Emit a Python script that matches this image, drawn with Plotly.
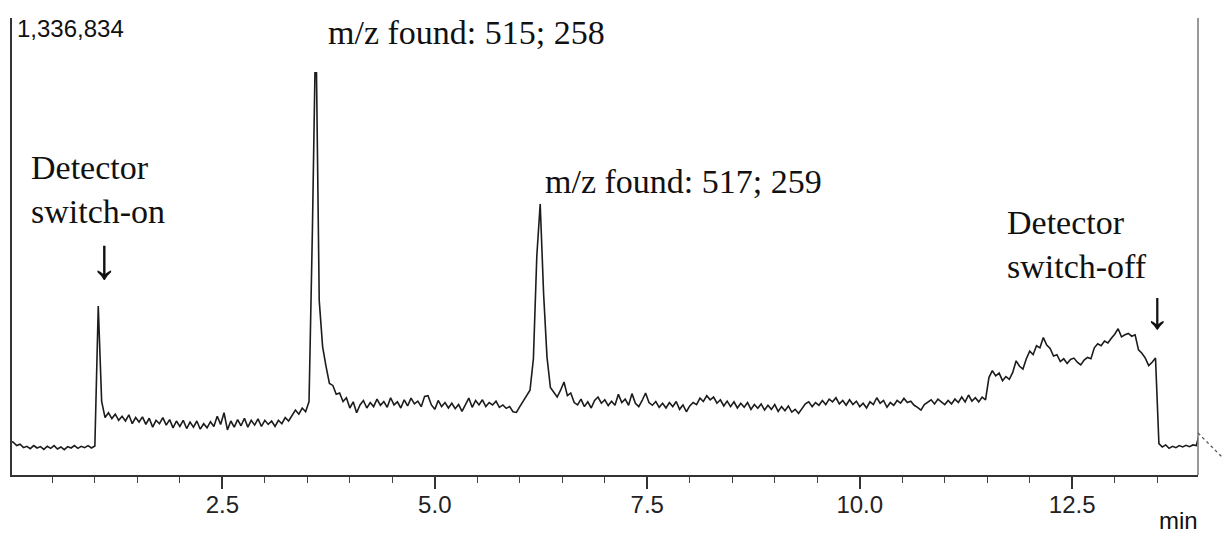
import plotly.graph_objects as go

# ---------------- data ----------------
SAMPLE_STEP_MIN = 0.04          # detector sampling interval (min)
FULL_SCALE_K = 1336.834         # full-scale intensity (thousand counts)

# intensity in thousand counts, one value every 0.04 min from 0.00 to 14.00 min
intensity_k = [
    # 0.00 - 1.00  (detector off)
    98, 96, 86, 90, 80, 84, 77, 86, 79, 83,
    75, 84, 78, 86, 76, 82, 74, 83, 79, 86,
    78, 84, 80, 86, 79, 85,
    # 1.04 - 1.12  switch-on spike
    494, 215, 168,
    # 1.16 - 3.48
    182, 165, 178, 160, 172, 158, 176, 150, 168, 155,
    170, 148, 166, 140, 160, 150, 168, 146, 162, 138,
    158, 142, 160, 136, 155, 140, 158, 134, 150, 138,
    156, 142, 172, 148, 182, 132, 158, 140, 162, 144,
    166, 140, 160, 146, 164, 142, 160, 148, 158, 142,
    160, 150, 168, 158, 175, 190, 178, 196, 185,
    # 3.52 - 4.12  main peak (m/z 515; 258)
    215, 720, 1336.834, 510, 375, 318, 268, 262, 236, 240,
    215, 226, 196, 214, 182, 205,
    # 4.16 - 6.00
    218, 196, 212, 200, 222, 204, 215, 198, 226, 205,
    214, 196, 220, 202, 225, 208, 216, 200, 230, 232,
    205, 192, 218, 200, 212, 196, 210, 194, 206, 186,
    204, 225, 198, 218, 205, 220, 200, 212, 205, 216,
    198, 205, 195, 200, 185, 183, 200,
    # 6.04 - 6.60  second peak (m/z 517; 259)
    215, 232, 248, 340, 640, 793, 530, 345, 256, 242,
    228, 248, 272, 232, 240,
    # 6.64 - 11.48
    212, 205, 222, 200, 214, 196, 218, 228, 210, 220,
    203, 216, 204, 236, 212, 222, 204, 238, 210, 200,
    218, 240, 212, 204, 215, 198, 210, 196, 212, 200,
    215, 192, 205, 185, 202, 212, 206, 225, 215, 232,
    220, 228, 210, 220, 202, 216, 200, 214, 196, 210,
    198, 212, 192, 206, 195, 208, 190, 204, 192, 206,
    186, 200, 188, 202, 184, 192, 180, 196, 208, 214,
    200, 212, 204, 218, 206, 222, 214, 226, 208, 218,
    204, 220, 206, 216, 200, 210, 196, 214, 206, 226,
    210, 218, 198, 212, 204, 218, 210, 224, 212, 216,
    204, 198, 190, 206, 212, 220, 208, 222, 214, 206,
    218, 208, 222, 212, 228, 214, 234, 216, 226, 214,
    228, 220,
    # 11.52 - 13.48  late hump
    285, 305, 290, 298, 276, 288, 280, 300, 334, 318,
    310, 340, 362, 352, 378, 372, 402, 380, 370, 348,
    352, 332, 340, 326, 338, 342, 330, 322, 336, 344,
    340, 372, 384, 378, 392, 386, 400, 412, 428, 404,
    410, 414, 406, 410, 366, 356, 342, 320, 330, 342,
    # 13.52 - 14.00  detector off
    92, 82, 88, 78, 84, 80, 86, 82, 87, 83,
    88, 86, 125,
]
time_min = [round(i * SAMPLE_STEP_MIN, 2) for i in range(len(intensity_k))]

major_tick_vals = [2.5, 5.0, 7.5, 10.0, 12.5]
major_tick_text = ["2.5", "5.0", "7.5", "10.0", "12.5"]
x_range = [0.025, 13.98]

full_scale_label = "1,336,834"
peak1_label = "m/z found: 515; 258"
peak2_label = "m/z found: 517; 259"
on_label = "Detector<br>switch-on"
off_label = "Detector<br>switch-off"
arrow_glyph = "↓"
x_unit = "min"

# ---------------- layout geometry ----------------
W, H = 1222, 536
L, R, T, B = 12, 24, 18, 61
PW, PH = W - L - R, H - T - B


def px_x(px):
    return (px - L) / PW


def px_y(py):
    return (H - B - py) / PH


SERIF = "Liberation Serif, Times New Roman, serif"
SANS = "Liberation Sans, Arial, sans-serif"

fig = go.Figure()
fig.add_trace(go.Scatter(
    x=time_min, y=intensity_k, mode="lines",
    line=dict(color="#1c1c1c", width=1.6),
    hoverinfo="skip", showlegend=False,
))


def ann(text, x, y, size, family, xanchor="left", align="left"):
    fig.add_annotation(
        text=text, xref="paper", yref="paper", x=px_x(x), y=px_y(y),
        xanchor=xanchor, yanchor="middle", align=align, showarrow=False,
        font=dict(family=family, size=size, color="#111111"),
    )


SZ = 34
ann(full_scale_label, 15, 29, 24, SANS)
ann(peak1_label, 326, 33, SZ, SERIF)
ann(peak2_label, 543, 181, SZ, SERIF)
ann(on_label, 29, 189, SZ, SERIF)
ann(arrow_glyph, 104, 258, 58, SERIF, xanchor="center", align="center")
ann(off_label, 1005, 244, SZ, SERIF)
ann(arrow_glyph, 1157, 310, 54, SERIF, xanchor="center", align="center")
ann(x_unit, 1178, 520, 24, SANS, xanchor="center", align="center")

# white label box masking the top of the main peak
fig.add_shape(type="rect", xref="paper", yref="paper",
              x0=px_x(306), x1=px_x(715), y0=px_y(72), y1=px_y(0),
              fillcolor="white", line=dict(width=0), layer="above")
# right frame line
fig.add_shape(type="line", xref="paper", yref="paper",
              x0=1, x1=1, y0=0, y1=1,
              line=dict(color="#777777", width=1.5), layer="above")
# trace continuing beyond the frame (dotted)
fig.add_shape(type="line", xref="paper", yref="paper",
              x0=px_x(1198), x1=px_x(1222), y0=px_y(433), y1=px_y(457),
              line=dict(color="#555555", width=1.3, dash="dot"), layer="above")

fig.update_layout(
    width=W, height=H, autosize=False,
    margin=dict(l=L, r=R, t=T, b=B, pad=0),
    paper_bgcolor="white", plot_bgcolor="white",
    showlegend=False,
    xaxis=dict(
        range=x_range, showgrid=False, zeroline=False,
        showline=True, linecolor="#333333", linewidth=1.5,
        ticks="outside", tickvals=major_tick_vals, ticktext=major_tick_text,
        ticklen=12, tickwidth=1.5, tickcolor="#333333",
        ticklabelstandoff=-5,
        tickfont=dict(family=SANS, size=24, color="#222222"),
        minor=dict(dtick=0.5, tick0=0, ticks="outside", ticklen=6,
                   tickwidth=1.3, tickcolor="#444444", showgrid=False),
    ),
    yaxis=dict(
        range=[0, FULL_SCALE_K], showgrid=False, zeroline=False,
        showline=True, linecolor="#333333", linewidth=1.5,
        ticks="", showticklabels=False,
    ),
)

fig.write_html("out.html")
